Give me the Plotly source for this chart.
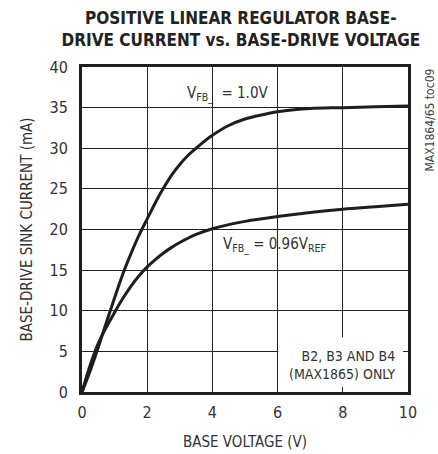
import plotly.graph_objects as go

# Base-drive sink current vs. base voltage, two feedback conditions
v_fb_10_x = [0, 0.25, 0.5, 0.75, 1.0, 1.25, 1.5, 1.75, 2.0, 2.25, 2.5, 2.75, 3.0,
             3.25, 3.5, 3.75, 4.0, 4.5, 5.0, 5.5, 6.0, 6.5, 7.0, 8.0, 9.0, 10.0]
v_fb_10_y = [0, 2.6, 5.5, 8.6, 11.6, 14.5, 17.0, 19.3, 21.3, 23.3, 25.1, 26.7, 28.0,
             29.1, 30.0, 30.85, 31.6, 32.8, 33.6, 34.1, 34.5, 34.75, 34.9, 35.0, 35.1, 35.2]

v_fb_096_x = [0, 0.25, 0.5, 0.75, 1.0, 1.25, 1.5, 1.75, 2.0, 2.25, 2.5, 2.75, 3.0,
              3.5, 4.0, 4.5, 5.0, 6.0, 7.0, 8.0, 9.0, 10.0]
v_fb_096_y = [0, 3.3, 6.0, 8.0, 9.8, 11.5, 13.0, 14.3, 15.4, 16.3, 17.1, 17.8, 18.4,
              19.4, 20.1, 20.6, 21.0, 21.6, 22.1, 22.5, 22.8, 23.1]

x_ticks = [0, 2, 4, 6, 8, 10]
y_ticks = [0, 5, 10, 15, 20, 25, 30, 35, 40]

FONT = "'DejaVu Sans Condensed', 'Liberation Sans Narrow', 'Roboto Condensed', Roboto, sans-serif"
curve_line = dict(color="#1e1e1e", width=3, shape="spline", smoothing=1.0)

fig = go.Figure()
fig.add_trace(go.Scatter(x=v_fb_10_x, y=v_fb_10_y, mode="lines", line=curve_line,
                         hoverinfo="skip"))
fig.add_trace(go.Scatter(x=v_fb_096_x, y=v_fb_096_y, mode="lines", line=curve_line,
                         hoverinfo="skip"))

# white panel behind the footnote, covering the grid
fig.add_shape(type="rect", xref="x", yref="y", x0=6.02, x1=10, y0=0, y1=6.7,
              fillcolor="white", line_width=0, layer="between")

fig.add_annotation(x=3.15, y=35.2, xref="x", yref="y", xanchor="left", yanchor="bottom",
                   text="V<sub>FB_</sub>  = 1.0V", showarrow=False,
                   font=dict(family=FONT, size=15, color="#333"))
fig.add_annotation(x=4.25, y=19.6, xref="x", yref="y", xanchor="left", yanchor="top",
                   text="V<sub>FB_</sub> = 0.96V<sub>REF</sub>", showarrow=False,
                   font=dict(family=FONT, size=15, color="#333"))
fig.add_annotation(x=9.65, y=1.0, xref="x", yref="y", xanchor="right", yanchor="bottom",
                   text="B2, B3 AND B4<br>(MAX1865) ONLY", align="right", showarrow=False,
                   font=dict(family=FONT, size=14, color="#333"))
fig.add_annotation(x=1.0, y=1.0, xref="paper", yref="paper", xanchor="left", yanchor="top",
                   xshift=12, text="MAX1864/65 toc09", textangle=-90, showarrow=False,
                   font=dict(family=FONT, size=12, color="#444"))

axis_common = dict(showgrid=True, gridcolor="#222", gridwidth=1,
                   showline=True, linecolor="#1e1e1e", linewidth=3, mirror="ticks",
                   ticks="inside", ticklen=5, tickcolor="#222", tickwidth=1,
                   zeroline=False, automargin=False,
                   tickfont=dict(family=FONT, size=16, color="#333"))

fig.update_xaxes(range=[0, 10], tickvals=x_ticks, ticklabelstandoff=4,
                 title=dict(text="BASE VOLTAGE (V)", standoff=16,
                            font=dict(family=FONT, size=15, color="#333")),
                 **axis_common)
fig.update_yaxes(range=[0, 40], tickvals=y_ticks, ticklabelstandoff=8,
                 title=dict(text="BASE-DRIVE SINK CURRENT (mA)", standoff=14,
                            font=dict(family=FONT, size=15, color="#333")),
                 **axis_common)

fig.update_layout(
    width=438, height=454,
    margin=dict(l=82, r=30, t=67, b=62),
    paper_bgcolor="white", plot_bgcolor="white",
    showlegend=False,
    title=dict(text="<b>POSITIVE LINEAR REGULATOR BASE-<br>DRIVE CURRENT vs. BASE-DRIVE VOLTAGE</b>",
               x=0.55, xanchor="center", xref="container",
               y=0.948, yanchor="bottom", yref="container",
               font=dict(family=FONT, size=17, color="#222")),
)

fig.write_html("out.html")
